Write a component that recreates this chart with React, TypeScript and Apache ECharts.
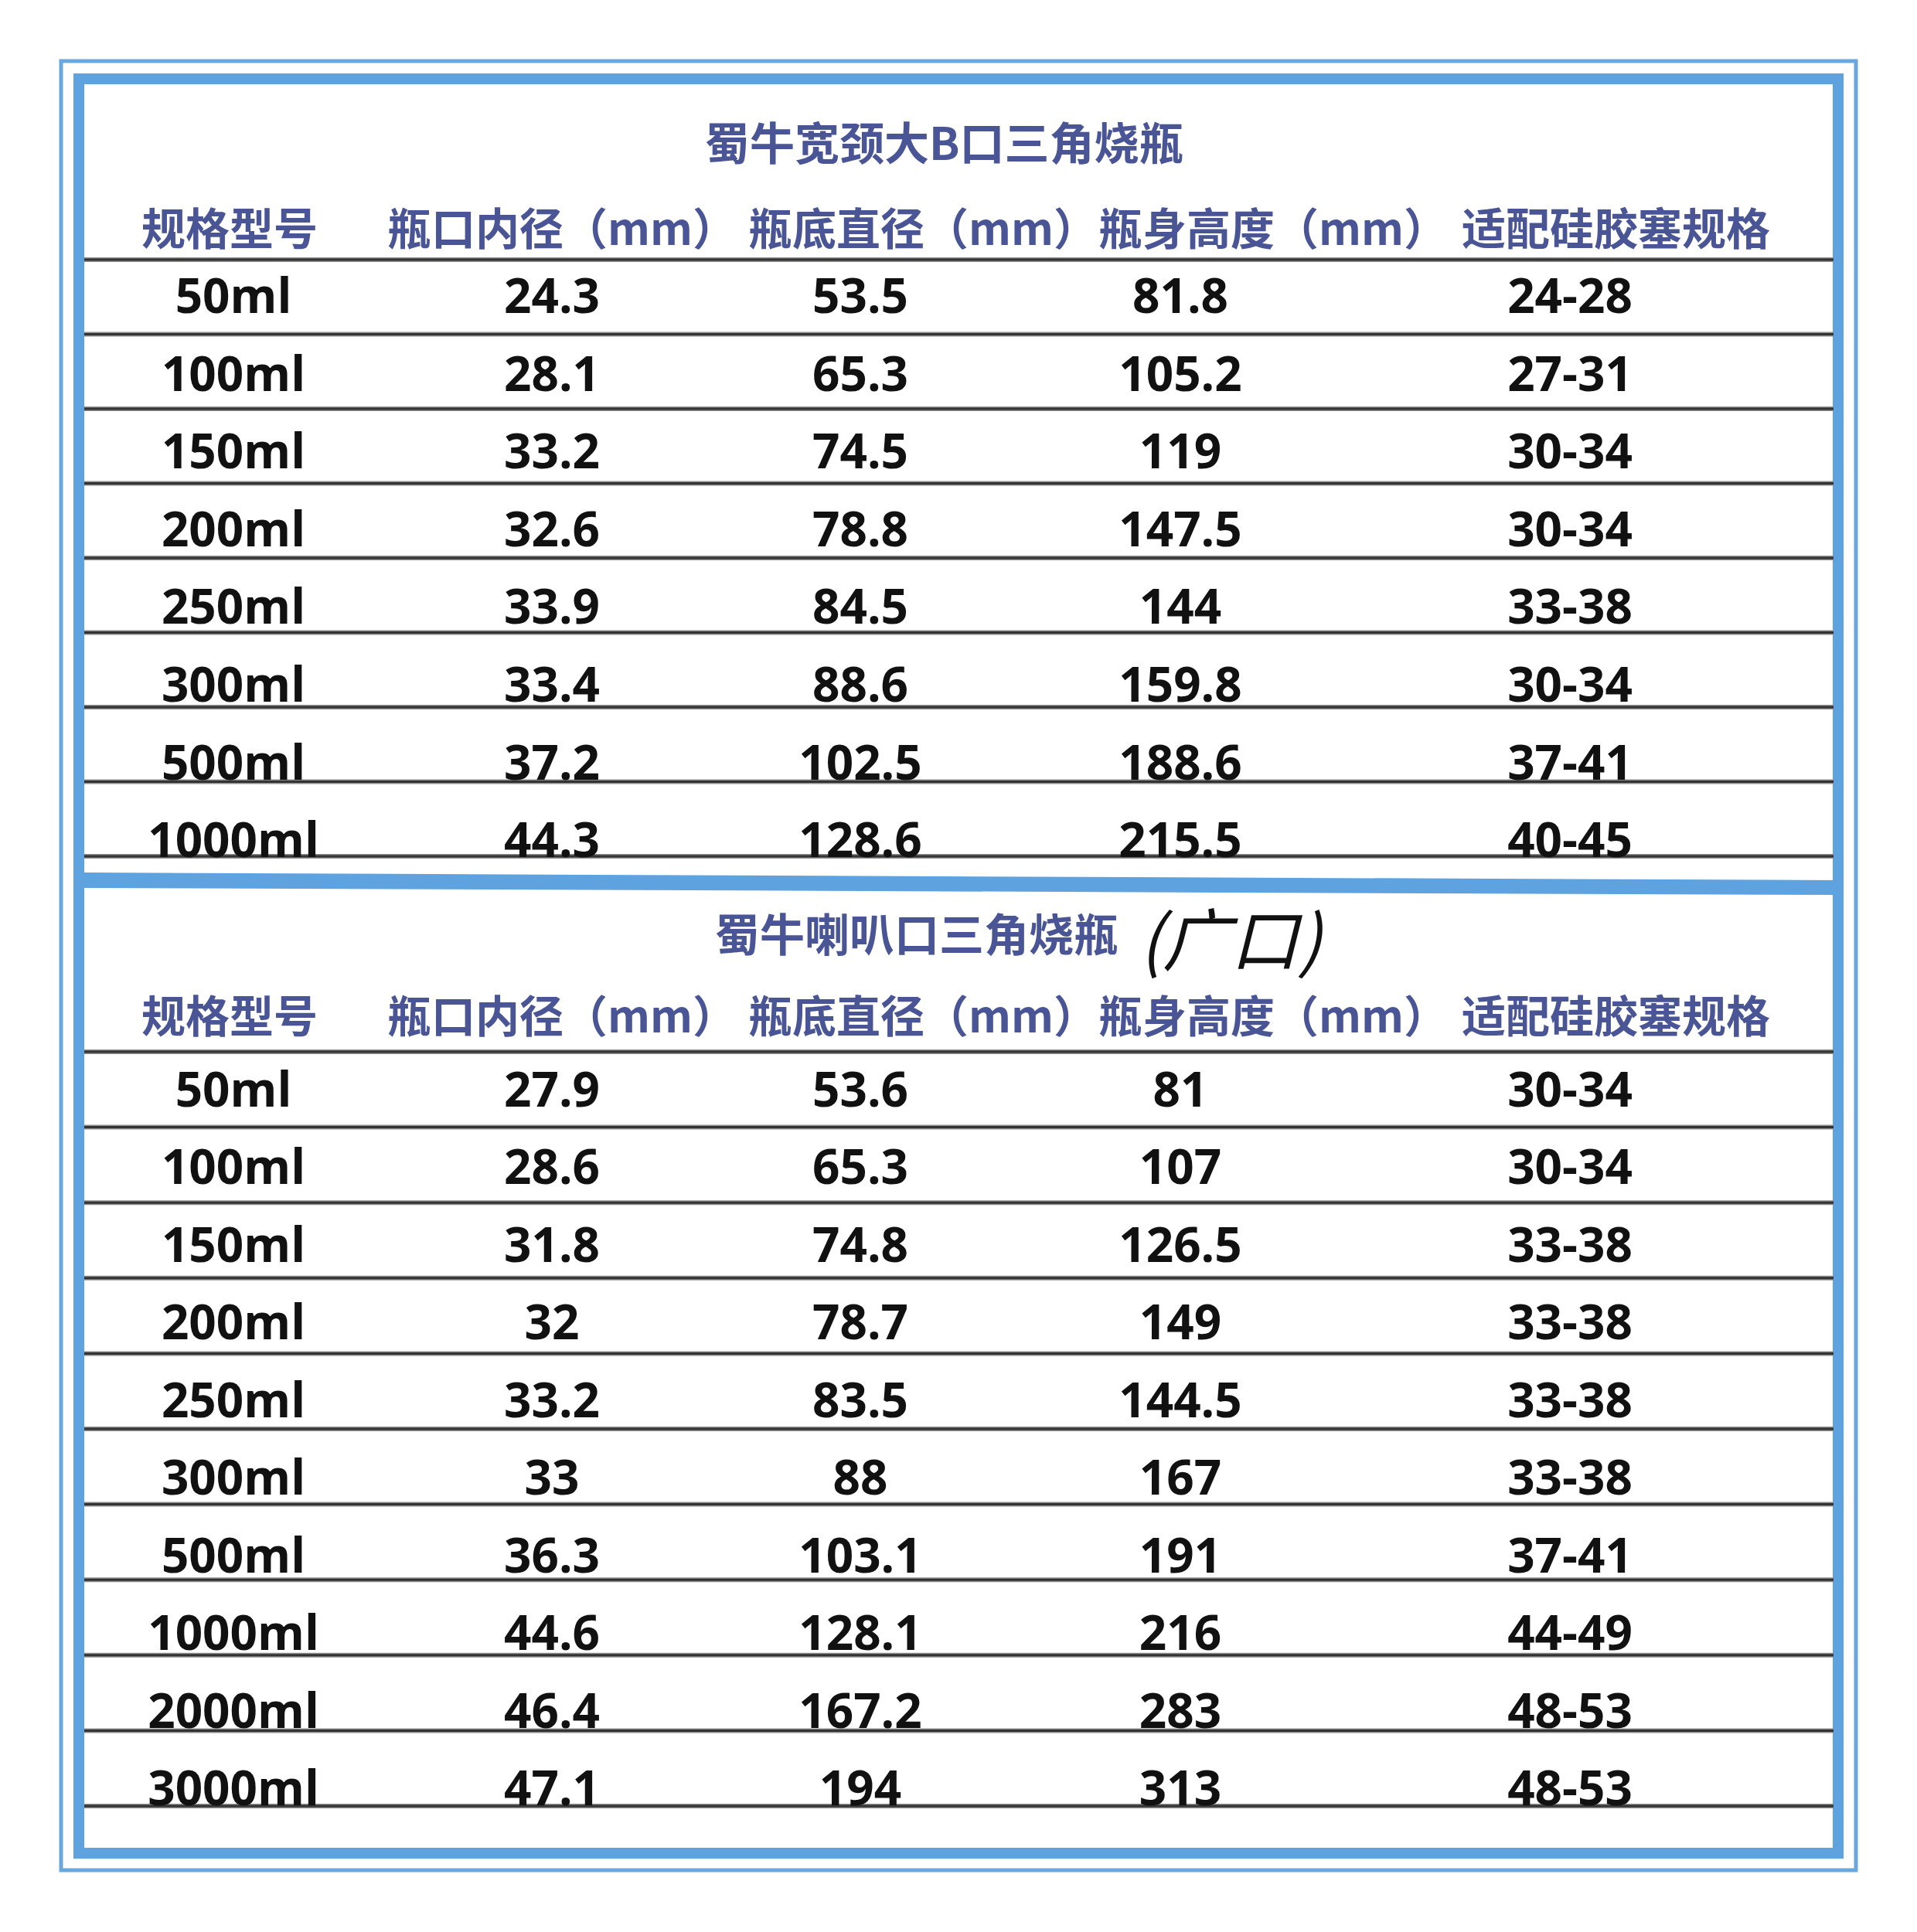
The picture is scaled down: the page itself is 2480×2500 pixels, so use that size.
import React, { useEffect, useRef } from 'react';
import * as echarts from 'echarts';

// ---------------- data ----------------
const TITLE_TOP = '蜀牛宽颈大B口三角烧瓶';
const TITLE_BOTTOM = '蜀牛喇叭口三角烧瓶';
const TITLE_NOTE = '(广口)';
const HEADERS = ['规格型号', '瓶口内径（mm）', '瓶底直径（mm）', '瓶身高度（mm）', '适配硅胶塞规格'];

const TOP_SPECS = ['50ml', '100ml', '150ml', '200ml', '250ml', '300ml', '500ml', '1000ml'];
const TOP_MOUTH = ['24.3', '28.1', '33.2', '32.6', '33.9', '33.4', '37.2', '44.3'];
const TOP_BASE = ['53.5', '65.3', '74.5', '78.8', '84.5', '88.6', '102.5', '128.6'];
const TOP_HEIGHT = ['81.8', '105.2', '119', '147.5', '144', '159.8', '188.6', '215.5'];
const TOP_STOPPER = ['24-28', '27-31', '30-34', '30-34', '33-38', '30-34', '37-41', '40-45'];

const BOT_SPECS = ['50ml', '100ml', '150ml', '200ml', '250ml', '300ml', '500ml', '1000ml', '2000ml', '3000ml'];
const BOT_MOUTH = ['27.9', '28.6', '31.8', '32', '33.2', '33', '36.3', '44.6', '46.4', '47.1'];
const BOT_BASE = ['53.6', '65.3', '74.8', '78.7', '83.5', '88', '103.1', '128.1', '167.2', '194'];
const BOT_HEIGHT = ['81', '107', '126.5', '149', '144.5', '167', '191', '216', '283', '313'];
const BOT_STOPPER = ['30-34', '30-34', '33-38', '33-38', '33-38', '33-38', '37-41', '44-49', '48-53', '48-53'];

// ---------------- layout ----------------
const W = 2480;
const H = 2500;
const COL_X = [302, 714, 1113, 1527, 2031];
const HEADER_LEFT = [183, 501, 968, 1421, 1891];
const LINE_X0 = 109;
const LINE_X1 = 2372;
const BLUE = '#5ea3e0';
const THIN_BLUE = '#69a7dc';
const HEAD_COLOR = '#4a5596';
const CJK = '"Noto Sans CJK SC", "Noto Sans", sans-serif';
const NUM = '"Open Sans", "Noto Sans", sans-serif';

function textSeries(gridIdx: number, cols: string[][]) {
  const data: number[][] = [];
  const labels: string[] = [];
  cols.forEach((col, c) =>
    col.forEach((t, r) => {
      data.push([COL_X[c], r]);
      labels.push(t);
    })
  );
  return {
    type: 'custom',
    xAxisIndex: gridIdx,
    yAxisIndex: gridIdx,
    clip: false,
    silent: true,
    data,
    renderItem: (params: any, api: any) => {
      const p = api.coord([api.value(0), api.value(1)]);
      return {
        type: 'text',
        x: p[0],
        y: p[1],
        style: {
          text: labels[params.dataIndex],
          align: 'center',
          verticalAlign: 'middle',
          textAlign: 'center',
          textVerticalAlign: 'middle',
          fontFamily: NUM,
          fontWeight: 'bold',
          fontSize: 62,
          fill: '#111111',
        },
      };
    },
  };
}

function lineSeries(gridIdx: number, rows: string[]) {
  return {
    type: 'custom',
    xAxisIndex: gridIdx,
    yAxisIndex: gridIdx,
    clip: false,
    silent: true,
    data: rows.map((_, r) => [LINE_X0, r]),
    renderItem: (params: any, api: any) => {
      const r = params.dataIndex;
      const c = api.coord([api.value(0), api.value(1)]);
      const band = api.size([0, 1])[1];
      const ys = r === 0 ? [c[1] - band / 2, c[1] + band / 2] : [c[1] + band / 2];
      const children: any[] = [];
      ys.forEach((y) => {
        children.push({
          type: 'line',
          shape: { x1: LINE_X0, y1: y, x2: LINE_X1, y2: y },
          style: { stroke: '#8c8c8c', lineWidth: 6 },
        });
        children.push({
          type: 'line',
          shape: { x1: LINE_X0, y1: y, x2: LINE_X1, y2: y },
          style: { stroke: '#333333', lineWidth: 3 },
        });
      });
      return { type: 'group', children };
    },
  };
}

function headerTexts(yCenter: number) {
  return HEADERS.map((h, i) => ({
    type: 'text',
    x: HEADER_LEFT[i],
    y: yCenter,
    style: {
      text: h,
      textAlign: 'left',
      textVerticalAlign: 'middle',
      align: 'left',
      verticalAlign: 'middle',
      fontFamily: CJK,
      fontWeight: 'bold',
      fontSize: 57,
      fill: HEAD_COLOR,
    },
  }));
}

export default function App() {
  const ref = useRef<HTMLDivElement>(null);
  useEffect(() => {
    document.body.style.margin = '0';
    const chart = echarts.init(ref.current!, null, { renderer: 'svg', width: W, height: H });
    const grids = [
      { top: 330.7, height: 804.8 }, // top table text rows
      { top: 336, height: 772 }, // top table rule lines
      { top: 1357.8, height: 1004.4 }, // bottom table text rows
      { top: 1361, height: 976 }, // bottom table rule lines
    ].map((g) => ({ ...g, left: 0, right: 0, show: false, containLabel: false, outerBoundsMode: 'none' }));
    const rowsFor = [TOP_SPECS, TOP_SPECS, BOT_SPECS, BOT_SPECS];
    const option: any = {
      animation: false,
      backgroundColor: '#ffffff',
      grid: grids,
      xAxis: grids.map((_, i) => ({ type: 'value', gridIndex: i, min: 0, max: W, show: false })),
      yAxis: grids.map((_, i) => ({
        type: 'category',
        gridIndex: i,
        data: rowsFor[i],
        inverse: true,
        show: false,
      })),
      series: [
        lineSeries(1, TOP_SPECS),
        lineSeries(3, BOT_SPECS),
        textSeries(0, [TOP_SPECS, TOP_MOUTH, TOP_BASE, TOP_HEIGHT, TOP_STOPPER]),
        textSeries(2, [BOT_SPECS, BOT_MOUTH, BOT_BASE, BOT_HEIGHT, BOT_STOPPER]),
      ],
      graphic: [
        {
          type: 'rect',
          shape: { x: 79, y: 79, width: 2322, height: 2341 },
          style: { fill: 'none', stroke: THIN_BLUE, lineWidth: 5 },
          silent: true,
        },
        {
          type: 'rect',
          shape: { x: 102, y: 102, width: 2276, height: 2296 },
          style: { fill: 'none', stroke: BLUE, lineWidth: 14 },
          silent: true,
        },
        {
          type: 'polygon',
          shape: {
            points: [
              [LINE_X0 - 2, 1129],
              [LINE_X1 + 2, 1139],
              [LINE_X1 + 2, 1158],
              [LINE_X0 - 2, 1149],
            ],
          },
          style: { fill: BLUE },
          silent: true,
        },
        {
          type: 'text',
          x: 912,
          y: 182,
          style: {
            text: TITLE_TOP,
            textAlign: 'left',
            textVerticalAlign: 'middle',
            align: 'left',
            verticalAlign: 'middle',
            fontFamily: CJK,
            fontWeight: 'bold',
            fontSize: 58,
            fill: HEAD_COLOR,
          },
        },
        {
          type: 'text',
          x: 925,
          y: 1206,
          style: {
            text: TITLE_BOTTOM,
            textAlign: 'left',
            textVerticalAlign: 'middle',
            align: 'left',
            verticalAlign: 'middle',
            fontFamily: CJK,
            fontWeight: 'bold',
            fontSize: 58,
            fill: HEAD_COLOR,
          },
        },
        {
          type: 'text',
          x: 1474,
          y: 1210,
          style: {
            text: TITLE_NOTE,
            textAlign: 'left',
            textVerticalAlign: 'middle',
            align: 'left',
            verticalAlign: 'middle',
            fontFamily: CJK,
            fontWeight: 'normal',
            fontStyle: 'italic',
            fontSize: 88,
            fill: '#111111',
          },
        },
        ...headerTexts(292),
        ...headerTexts(1311),
      ],
    };
    chart.setOption(option);
    return () => chart.dispose();
  }, []);
  return <div ref={ref} style={{ position: 'absolute', left: 0, top: 0, width: W, height: H }} />;
}
